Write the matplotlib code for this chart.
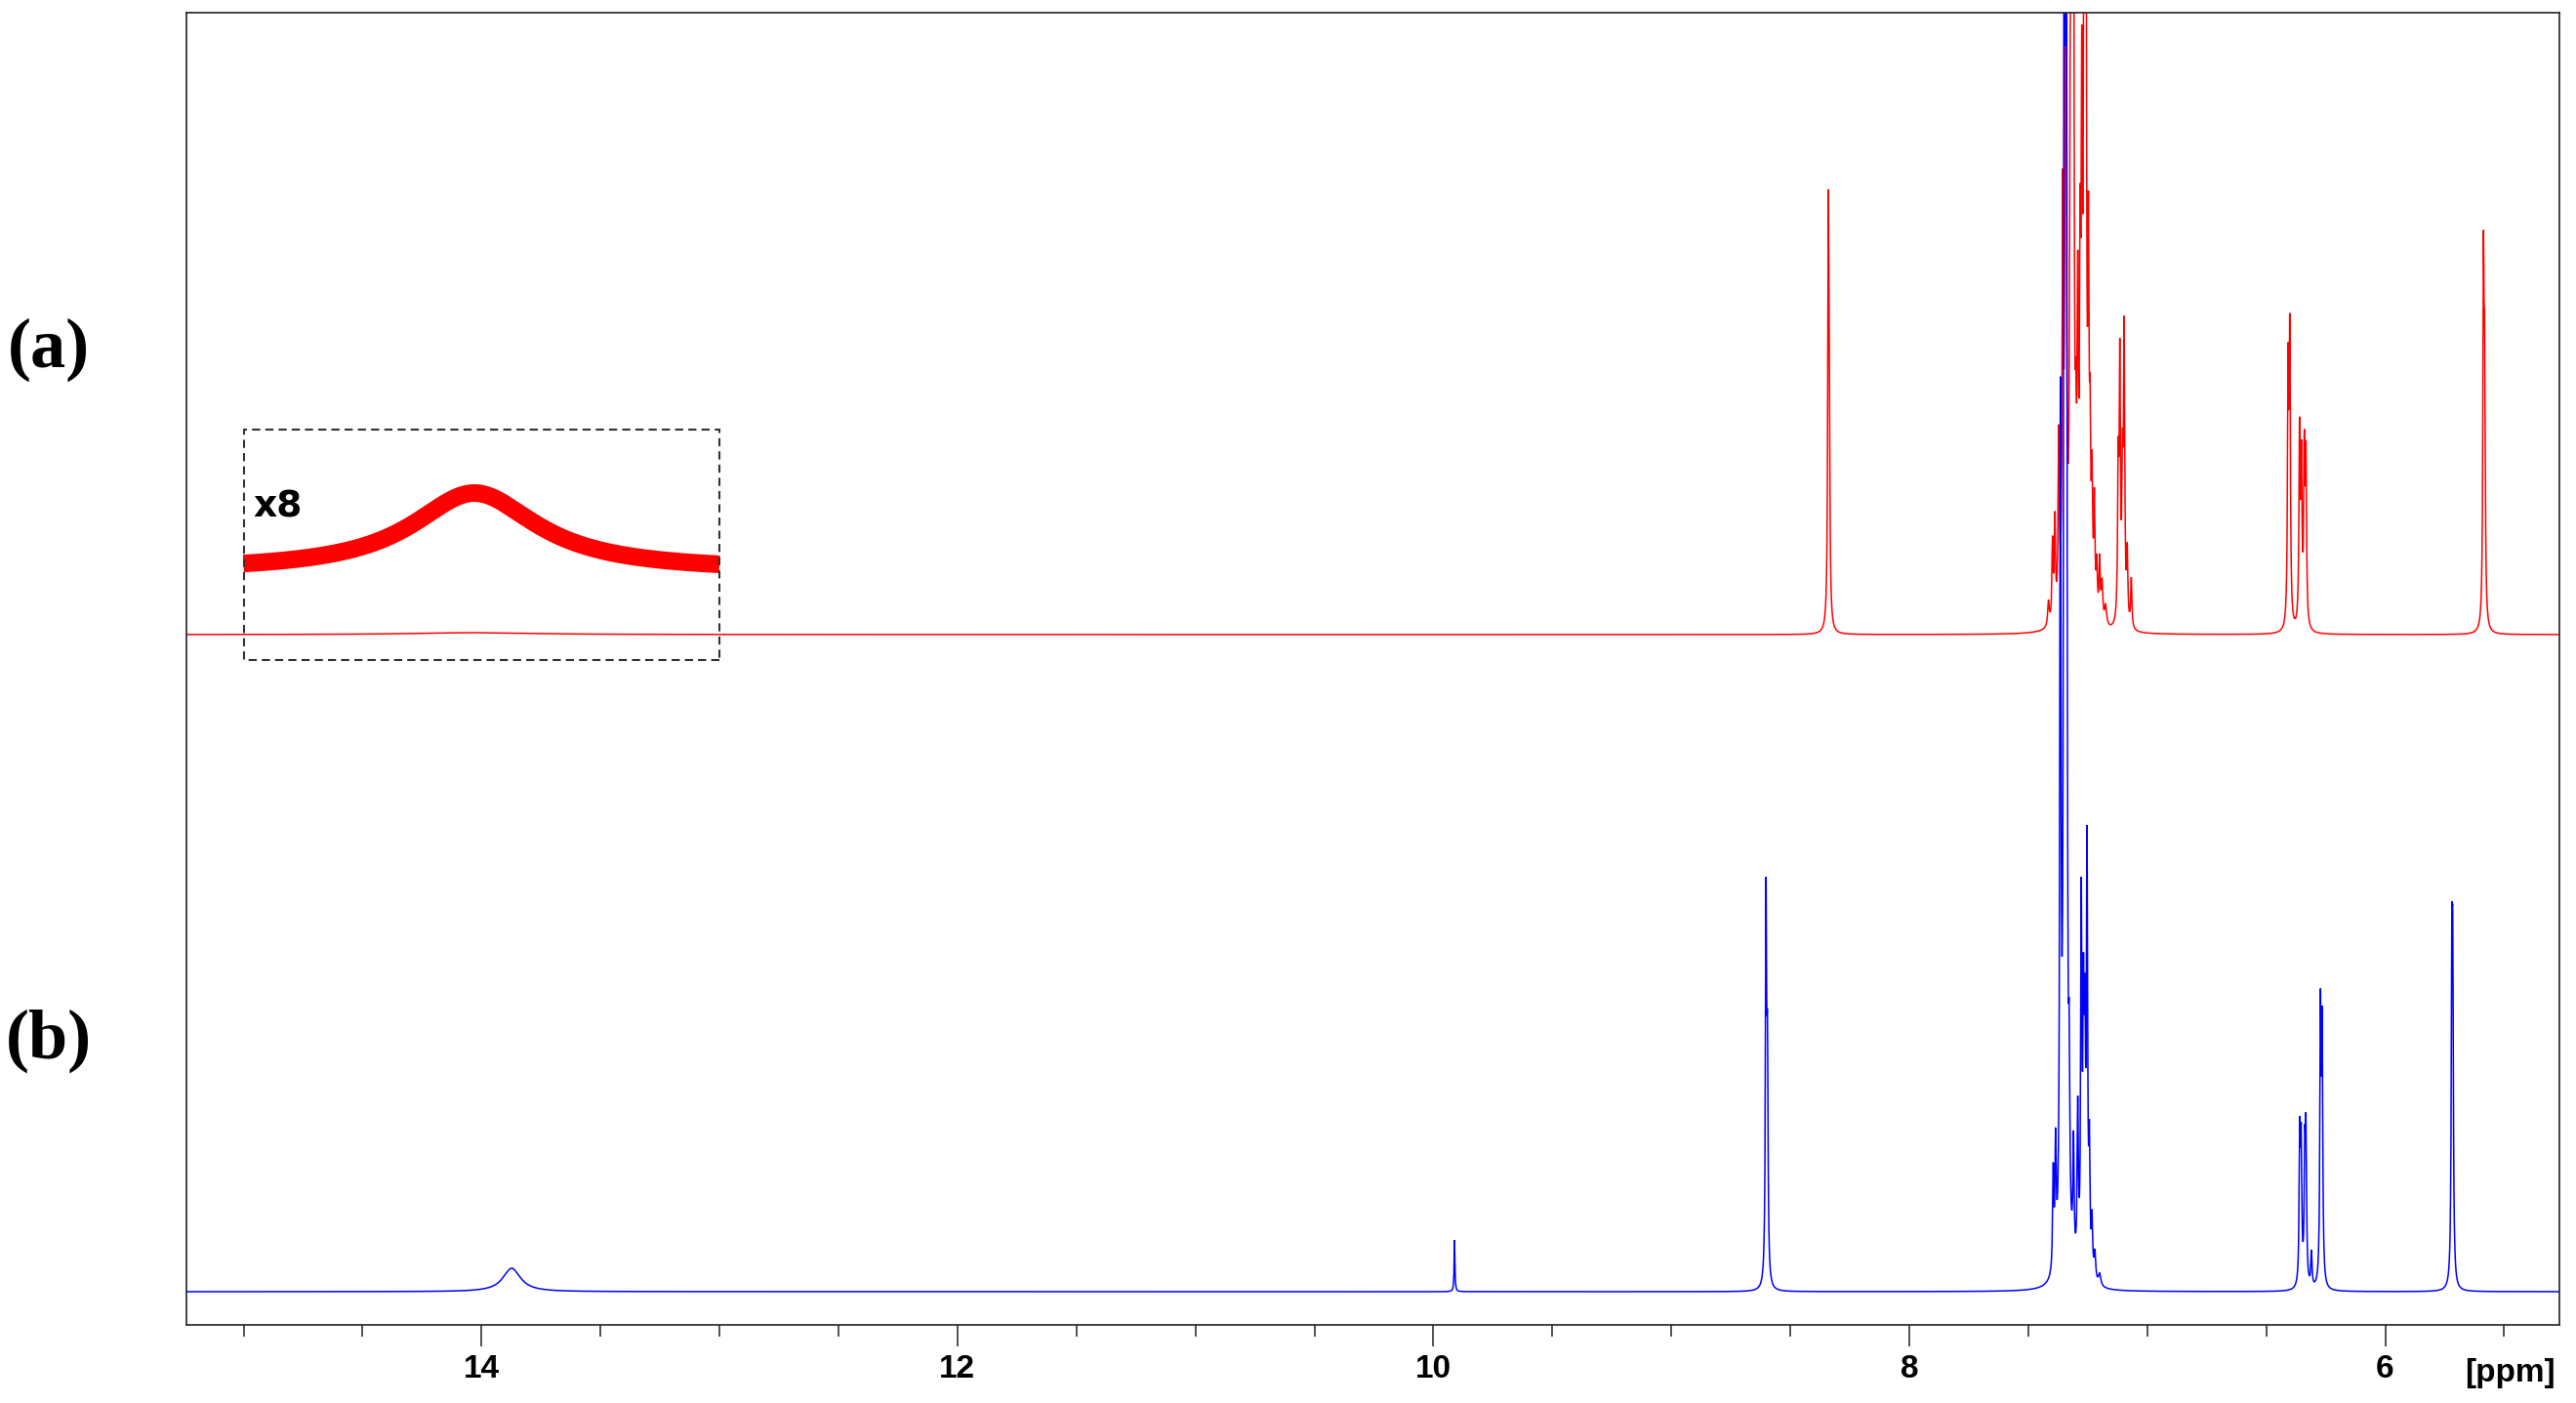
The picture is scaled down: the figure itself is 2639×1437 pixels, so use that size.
import numpy as np
import matplotlib
matplotlib.use("Agg")
import matplotlib.pyplot as plt
from matplotlib.patches import Rectangle
from matplotlib.ticker import MultipleLocator

# ---------------- data ----------------
# spectrum (a) – red: peak positions [ppm], heights [a.u.], half widths [ppm]
red_ppm = [8.340, 8.336,
           7.415, 7.398, 7.388, 7.372, 7.355, 7.343, 7.324, 7.318, 7.310,
           7.300, 7.292, 7.282, 7.275, 7.265, 7.258, 7.247, 7.240, 7.232,
           7.222, 7.212, 7.200, 7.190, 7.175,
           7.122, 7.115, 7.104, 7.097, 7.084, 7.067,
           6.408, 6.401, 6.360, 6.352, 6.340, 6.333,
           5.587, 5.582,
           14.03]
red_height = [400, 150,
              25, 80, 100, 180, 400, 900, 350, 900, 800,
              120, 280, 300, 450, 900, 800, 330, 150, 120,
              110, 50, 60, 40, 20,
              150, 260, 140, 290, 70, 50,
              252, 287, 195, 160, 170, 165,
              351, 231,
              2]
red_hwhm = [0.003, 0.003,
            0.004, 0.003, 0.003, 0.003, 0.003, 0.003, 0.003, 0.003, 0.003,
            0.003, 0.003, 0.003, 0.003, 0.003, 0.003, 0.003, 0.003, 0.003,
            0.003, 0.003, 0.003, 0.004, 0.005,
            0.003, 0.003, 0.003, 0.003, 0.003, 0.003,
            0.003, 0.003, 0.003, 0.003, 0.003, 0.003,
            0.003, 0.003,
            0.3]

# spectrum (b) – blue
blue_ppm = [13.873, 9.911, 8.602, 8.596,
            7.395, 7.385, 7.365, 7.348, 7.340, 7.328, 7.310, 7.292, 7.277,
            7.268, 7.262, 7.253, 7.243, 7.232, 7.220, 7.200,
            6.359, 6.353, 6.338, 6.333, 6.310, 6.272, 6.265,
            5.720, 5.716]
blue_height = [24, 53, 383, 208,
               100, 120, 850, 2000, 1500, 150, 120, 160, 370,
               240, 210, 425, 120, 55, 28, 12,
               147, 135, 122, 143, 35, 270, 249,
               287, 282]
blue_hwhm = [0.045, 0.002, 0.003, 0.003,
             0.003, 0.003, 0.003, 0.003, 0.003, 0.003, 0.003, 0.003, 0.003,
             0.003, 0.003, 0.003, 0.003, 0.003, 0.004, 0.006,
             0.003, 0.003, 0.003, 0.003, 0.003, 0.003, 0.003,
             0.003, 0.003]

# x8 expansion of the broad signal of (a)
inset_ppm = [14.03]
inset_height = [80]
inset_hwhm = [0.32]
inset_label = "x8"
inset_range = (15.0, 13.0)

tick_major = [6, 8, 10, 12, 14]
panel_labels = ["(a)", "(b)"]
unit_label = "[ppm]"

# ---------------- layout ----------------
W, H = 2639, 1437
fig = plt.figure(figsize=(W / 100, H / 100), dpi=100)
ax = fig.add_axes([191 / W, 1 - 1357 / H, (2622 - 191) / W, (1357 - 13) / H])

x_left, x_right = 15.24, 5.268
y_top = 1344
red_offset = 707
blue_offset = 34
inset_offset = 772
inset_box = (681, 917)

grid = np.linspace(x_right, x_left, 30000)


def lorentz_sum(x, centers, heights, hwhms):
    y = np.zeros_like(x)
    for c, h, w in zip(centers, heights, hwhms):
        y += h * w ** 2 / ((x - c) ** 2 + w ** 2)
    return y


red = lorentz_sum(grid, red_ppm, red_height, red_hwhm)
blue = lorentz_sum(grid, blue_ppm, blue_height, blue_hwhm)

ax.plot(grid, red + red_offset, color="#ff0000", lw=1.1, solid_joinstyle="miter")
ax.plot(grid, blue + blue_offset, color="#0000ff", lw=1.1, solid_joinstyle="miter")

# expansion
sel = (grid <= inset_range[0]) & (grid >= inset_range[1])
ins = lorentz_sum(grid[sel], inset_ppm, inset_height, inset_hwhm)
ax.plot(grid[sel], ins + inset_offset, color="#ff0000", lw=13, solid_capstyle="butt")
ax.add_patch(Rectangle((inset_range[1], inset_box[0]), inset_range[0] - inset_range[1],
                       inset_box[1] - inset_box[0], fill=False, edgecolor="#333333",
                       lw=1.5, linestyle=(0, (4, 2.5)), zorder=5))
ax.text(14.96, 838, inset_label, fontsize=27, fontweight="bold",
        family="DejaVu Sans", ha="left", va="center", color="black")

ax.set_xlim(x_left, x_right)
ax.set_ylim(0, y_top)
ax.set_yticks([])
ax.set_xticks(tick_major)
ax.set_xticklabels([str(t) for t in tick_major])
ax.xaxis.set_minor_locator(MultipleLocator(0.5))
ax.tick_params(axis="x", which="major", length=15.8, width=1.1, pad=6,
               direction="out", color="#222222")
ax.tick_params(axis="x", which="minor", length=8.6, width=1.1,
               direction="out", color="#222222")
for lab in ax.get_xticklabels():
    lab.set_family(["Liberation Sans Narrow", "Liberation Sans"])
    lab.set_fontweight("bold")
    lab.set_fontsize(24)
for s in ax.spines.values():
    s.set_linewidth(1.2)
    s.set_color("#222222")

fig.text(2618 / W, 1 - 1406 / H, unit_label, ha="right", va="center",
         fontsize=24, fontweight="bold", family=["Liberation Sans Narrow", "Liberation Sans"])

fig.text(50 / W, 1 - 358 / H, panel_labels[0], ha="center", va="center",
         fontsize=52, fontweight="bold", family="Liberation Serif")
fig.text(50 / W, 1 - 1066 / H, panel_labels[1], ha="center", va="center",
         fontsize=52, fontweight="bold", family="Liberation Serif")

fig.savefig("out.png", dpi=100)
